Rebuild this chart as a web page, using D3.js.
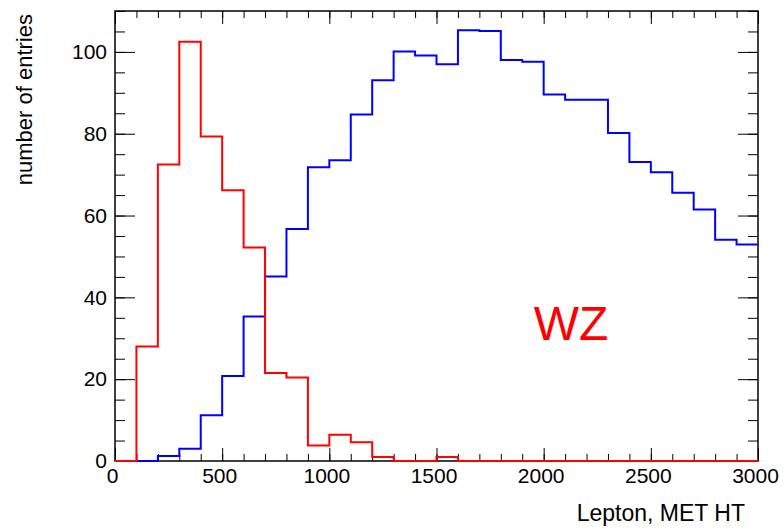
<!DOCTYPE html>
<html>
<head>
<meta charset="utf-8">
<script src="https://cdn.jsdelivr.net/npm/d3@7"></script>
<style>
  body { margin: 0; background: #fff; }
  svg { display: block; font-family: "Liberation Sans", Arial, sans-serif; }
</style>
</head>
<body>
<svg id="chart" width="784" height="529"></svg>
<script>
// bin low edges (width 100)
var binLow = [0, 100, 200, 300, 400, 500, 600, 700, 800, 900,
  1000, 1100, 1200, 1300, 1400, 1500, 1600, 1700, 1800, 1900,
  2000, 2100, 2200, 2300, 2400, 2500, 2600, 2700, 2800, 2900];
var binEnd = 3000;

// blue histogram
var blueVals = [0, 0, 1.2, 3.0, 11.2, 20.8, 35.3, 45.1, 56.7, 71.8,
  73.5, 84.7, 93.1, 100.1, 99.1, 97.0, 105.3, 105.1, 98.0, 97.6,
  89.6, 88.3, 88.3, 80.2, 73.1, 70.6, 65.6, 61.5, 54.1, 52.9];

// red histogram
var redVals = [0, 28.0, 72.5, 102.5, 79.3, 66.2, 52.2, 21.5, 20.4, 3.8,
  6.4, 4.6, 1.0, 0, 0, 1.0, 0, 0, 0, 0,
  0, 0, 0, 0, 0, 0, 0, 0, 0, 0];

var xMajor = [0, 500, 1000, 1500, 2000, 2500, 3000];
var yMajor = [0, 20, 40, 60, 80, 100];
var xMinor = binLow.concat([binEnd]);
var yMinor = [0, 5, 10, 15, 20, 25, 30, 35, 40, 45, 50, 55, 60, 65, 70, 75, 80, 85, 90, 95, 100, 105, 110];

var svg = d3.select("svg#chart");
var pad = {left: 115, right: 758, top: 11, bottom: 461};

var x = d3.scaleLinear().domain([0, 3000]).range([pad.left, pad.right]);
var y = d3.scaleLinear().domain([0, 110]).range([pad.bottom, pad.top]);

// frame
svg.append("rect")
  .attr("x", pad.left).attr("y", pad.top)
  .attr("width", pad.right - pad.left).attr("height", pad.bottom - pad.top)
  .attr("fill", "none").attr("stroke", "#000").attr("stroke-width", 1.5);

function styleAxis(g){
  g.select(".domain").remove();
  g.selectAll(".tick line").attr("stroke", "#000").attr("stroke-width", 1);
  g.selectAll("text").attr("font-size", "21px").attr("fill", "#000")
    .attr("font-family", "Liberation Sans, Arial, sans-serif");
}

//minor ticks
svg.append("g").attr("transform", `translate(${pad.left},0)`)
  .call(d3.axisLeft(y).tickValues(yMinor).tickSizeInner(-10).tickSizeOuter(0).tickFormat(""))
  .call(styleAxis);
svg.append("g").attr("transform", `translate(${pad.right},0)`)
  .call(d3.axisRight(y).tickValues(yMinor).tickSizeInner(-10).tickSizeOuter(0).tickFormat(""))
  .call(styleAxis);
svg.append("g").attr("transform", `translate(0,${pad.bottom})`)
  .call(d3.axisBottom(x).tickValues(xMinor).tickSizeInner(-7).tickSizeOuter(0).tickFormat(""))
  .call(styleAxis);
svg.append("g").attr("transform", `translate(0,${pad.top})`)
  .call(d3.axisTop(x).tickValues(xMinor).tickSizeInner(-7).tickSizeOuter(0).tickFormat(""))
  .call(styleAxis);

//major ticks + labels
svg.append("g").attr("class", "yaxis").attr("transform", `translate(${pad.left},0)`)
  .call(d3.axisLeft(y).tickValues(yMajor).tickSizeInner(-20).tickSizeOuter(0).tickPadding(8).tickFormat(d3.format("d")))
  .call(styleAxis);
svg.append("g").attr("transform", `translate(${pad.right},0)`)
  .call(d3.axisRight(y).tickValues(yMajor).tickSizeInner(-20).tickSizeOuter(0).tickFormat(""))
  .call(styleAxis);
svg.append("g").attr("class", "xaxis").attr("transform", `translate(0,${pad.bottom})`)
  .call(d3.axisBottom(x).tickValues(xMajor).tickSizeInner(-13).tickSizeOuter(0).tickPadding(7).tickFormat(d3.format("d")))
  .call(styleAxis)
  .selectAll("text").attr("dx", -3);
svg.append("g").attr("transform", `translate(0,${pad.top})`)
  .call(d3.axisTop(x).tickValues(xMajor).tickSizeInner(-13).tickSizeOuter(0).tickFormat(""))
  .call(styleAxis);

// histograms as step lines
var line = d3.line()
  .x(d => x(d[0]))
  .y(d => y(d[1]))
  .curve(d3.curveStepAfter);

function pts(vals){
  var p = binLow.map((b, i) => [b, vals[i]]);
  p.push([binEnd, vals[vals.length - 1]]);
  return p;
}

svg.append("path")
  .attr("d", line(pts(blueVals)))
  .attr("fill", "none").attr("stroke", "#0000ff").attr("stroke-width", 2);

svg.append("path")
  .attr("d", line(pts(redVals)))
  .attr("fill", "none").attr("stroke", "#ff0000").attr("stroke-width", 2);

// labels
svg.append("text")
  .attr("x", 571).attr("y", 339.5)
  .attr("text-anchor", "middle")
  .attr("font-size", "48px")
  .attr("fill", "#ff0000")
  .text("WZ");

svg.append("text")
  .attr("x", 745).attr("y", 521)
  .attr("text-anchor", "end")
  .attr("font-size", "23px")
  .attr("fill", "#000")
  .text("Lepton, MET HT");

svg.append("text")
  .attr("transform", "translate(32,14) rotate(-90)")
  .attr("text-anchor", "end")
  .attr("font-size", "22px")
  .attr("fill", "#000")
  .text("number of entries");
</script>
</body>
</html>
